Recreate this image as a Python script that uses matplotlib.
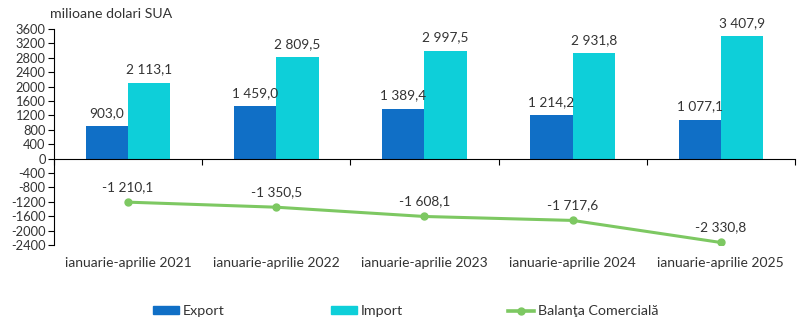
import numpy as np
import matplotlib.pyplot as plt
from matplotlib.lines import Line2D
from matplotlib.patches import Patch

plt.rcParams['font.family'] = ['Lato', 'DejaVu Sans']

categories = ['ianuarie-aprilie 2021', 'ianuarie-aprilie 2022', 'ianuarie-aprilie 2023',
              'ianuarie-aprilie 2024', 'ianuarie-aprilie 2025']
export = [903.0, 1459.0, 1389.4, 1214.2, 1077.1]
imports = [2113.1, 2809.5, 2997.5, 2931.8, 3407.9]
balance = [-1210.1, -1350.5, -1608.1, -1717.6, -2330.8]

c_exp = '#106fc6'
c_imp = '#0ecfd9'
c_bal = '#7dc862'
txt = '#333333'


def fmt(v):
    s = f'{abs(v):,.1f}'.replace(',', ' ').replace('.', ',')
    return ('-' if v < 0 else '') + s


fig = plt.figure(figsize=(8.12, 3.27), dpi=100)
ax = fig.add_axes([0.0665, 0.2508, 0.9125, 0.6605])

x = np.arange(len(categories))
w = 0.285
ax.bar(x - w / 2, export, w, color=c_exp)
ax.bar(x + w / 2, imports, w, color=c_imp)
ax.plot(x, balance, color=c_bal, lw=2.2, marker='o', ms=5)

for i in range(len(x)):
    ax.text(x[i] - w / 2, export[i] + 200, fmt(export[i]), ha='center', va='bottom', fontsize=9.8, color=txt)
    ax.text(x[i] + w / 2, imports[i] + 200, fmt(imports[i]), ha='center', va='bottom', fontsize=9.8, color=txt)
    ax.text(x[i], balance[i] + 260, fmt(balance[i]), ha='center', va='bottom', fontsize=9.8, color=txt)

ax.set_xlim(-0.5, len(x) - 0.5)
ax.set_ylim(-2400, 3600)
ax.set_yticks(np.arange(-2400, 3601, 400))
ax.set_yticklabels([str(v) for v in range(-2400, 3601, 400)], fontsize=9.3, color=txt)
ax.spines['top'].set_visible(False)
ax.spines['right'].set_visible(False)
ax.spines['bottom'].set_position(('data', 0))
ax.set_xticks(np.arange(-0.5, len(x), 1.0))
ax.set_xticklabels([])
ax.tick_params(axis='x', length=4, direction='out')
ax.tick_params(axis='y', length=4, pad=2)
for i, c in enumerate(categories):
    ax.text(x[i], -2720, c, ha='center', va='top', fontsize=10, color=txt)

fig.text(0.0615, 0.958, 'milioane dolari SUA', fontsize=10.2, color=txt, va='center')

handles = [Patch(color=c_exp, label='Export'), Patch(color=c_imp, label='Import'),
           Line2D([], [], color=c_bal, lw=2.6, marker='o', ms=5, label='Balanţa Comercială')]
starts = [153, 331, 508]
for h, xs in zip(handles, starts):
    leg = fig.legend(handles=[h], loc='center left', bbox_to_anchor=(xs / 812, 1 - 311 / 327),
                     frameon=False, fontsize=10.3, handlelength=1.85, handleheight=0.45,
                     handletextpad=0.25, borderpad=0, borderaxespad=0)
    for t in leg.get_texts():
        t.set_color(txt)

fig.savefig('out.png', dpi=100)
